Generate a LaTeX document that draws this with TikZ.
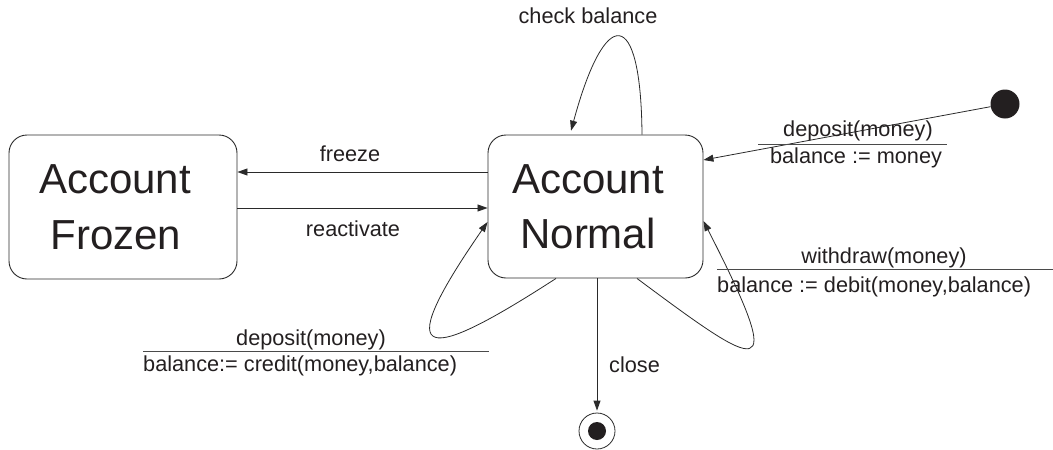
\documentclass[tikz,border=0pt]{standalone}
\usepackage{fontspec}
\setmainfont{Liberation Sans}
\usetikzlibrary{arrows.meta}
\definecolor{ink}{HTML}{231F20}
\definecolor{edge}{HTML}{2A2A2A}
\begin{document}
\begin{tikzpicture}[x=1pt,y=-1pt,
  state/.style={draw=edge, line width=0.9pt, rounded corners=18pt, inner sep=0pt},
  lbl/.style={font=\fontsize{21.7}{26}\selectfont, text=ink, anchor=base, inner sep=0pt},
  big/.style={font=\fontsize{42}{50}\selectfont, text=ink, anchor=base, inner sep=0pt},
  tr/.style={draw=edge, line width=0.8pt, -{Triangle[length=10pt,width=7pt]}},
  sepline/.style={draw=edge!85, line width=0.8pt}]
\useasboundingbox (0,0) rectangle (1053,450);

% states
\node[state, minimum width=228pt, minimum height=144pt] (frozen) at (123,207) {};
\node[state, minimum width=215pt, minimum height=143pt] (normal) at (595.5,206.5) {};
\node[big] (frozen1) at (115,193) {Account};
\node[big] (frozen2) at (116,249) {Frozen};
\node[big] (normal1) at (588,193) {Account};
\node[big] (normal2) at (588,248) {Normal};

% pseudo states
\node[fill=ink, circle, minimum size=29pt, inner sep=0pt] (init) at (1005,104) {};
\node[draw=edge, circle, minimum size=36pt, inner sep=0pt, line width=0.8pt] (final) at (597,431) {};
\node[fill=ink, circle, minimum size=18pt, inner sep=0pt] (finaldot) at (final) {};

% transitions
\draw[tr] (normal.west |- 0,172) -- (frozen.east |- 0,172);
\draw[tr] (frozen.east |- 0,208) -- (normal.west |- 0,208);
\draw[tr, shorten >=4pt] (normal.north -| 642,0) .. controls (641,5) and (605,5) .. (normal.north -| 570,0);
\draw[tr] (init) -- (normal.east |- 0,160);
\draw[tr] (normal.south -| 637,0) .. controls (760,370) and (790,390) .. (normal.east |- 0,221);
\draw[tr] (normal.south -| 556,0) .. controls (430,360) and (385,370) .. (normal.west |- 0,222);
\draw[tr, shorten >=2pt] (normal.south -| 597,0) -- (final);

% labels
\node[lbl] (lcheck) at (588,23) {check balance};
\node[lbl] (lfreeze) at (350,161) {freeze};
\node[lbl] (lreact) at (353,236) {reactivate};

\node[lbl] (linit1) at (858,136) {deposit(money)};
\draw[sepline] (758,144) -- (947,144);
\node[lbl] (linit2) at (856,163) {balance := money};

\node[lbl] (lwd1) at (884,263) {withdraw(money)};
\draw[sepline] (717,269) -- (1053,269);
\node[lbl, anchor=base west] (lwd2) at (717,292) {balance := debit(money,balance)};

\node[lbl] (ldep1) at (311,345) {deposit(money)};
\draw[sepline] (143,351) -- (489,351);
\node[lbl, anchor=base west] (ldep2) at (143,371) {balance:= credit(money,balance)};

\node[lbl, anchor=base west] (lclose) at (609,372) {close};
\end{tikzpicture}
\end{document}
